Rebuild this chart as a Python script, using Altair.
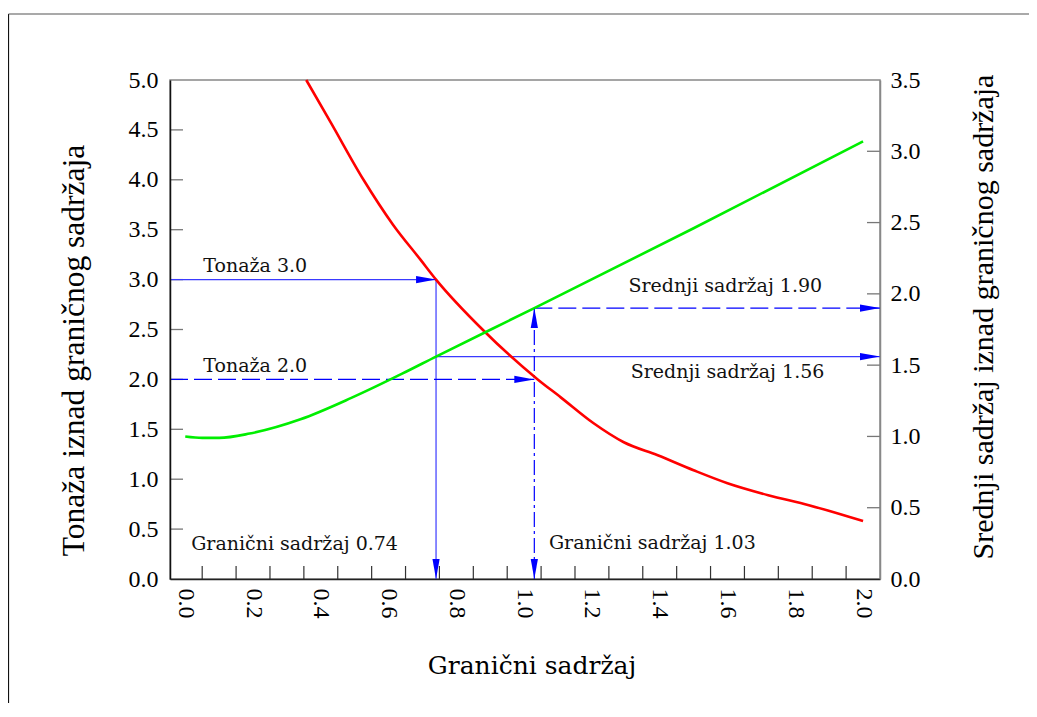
import altair as alt
import pandas as pd

# ---------------- data ----------------
red_x = [0.357, 0.43, 0.526, 0.613, 0.694, 0.74, 0.88, 1.04, 1.108, 1.205,
         1.294, 1.394, 1.50, 1.60, 1.72, 1.84, 2.0]
red_y = [5.0, 4.57, 4.0, 3.55, 3.2, 3.0, 2.49, 2.0, 1.82, 1.56,
         1.37, 1.24, 1.09, 0.96, 0.84, 0.74, 0.58]

green_x = [0.0, 0.05, 0.1, 0.19, 0.34, 0.49, 0.64, 0.74, 1.03, 1.5, 2.0]
green_y = [1.0, 0.99, 0.99, 1.02, 1.12, 1.27, 1.44, 1.56, 1.90, 2.46, 3.07]

x_labels = [0.0, 0.2, 0.4, 0.6, 0.8, 1.0, 1.2, 1.4, 1.6, 1.8, 2.0]
x_minor = [0.05, 0.15, 0.25, 0.35, 0.45, 0.55, 0.65, 0.75, 0.85, 0.95,
           1.05, 1.15, 1.25, 1.35, 1.45, 1.55, 1.65, 1.75, 1.85, 1.95]
left_vals = [0.0, 0.5, 1.0, 1.5, 2.0, 2.5, 3.0, 3.5, 4.0, 4.5, 5.0]
right_vals = [0.0, 0.5, 1.0, 1.5, 2.0, 2.5, 3.0, 3.5]
left_inner_ticks = [0.5, 1.0, 1.5, 2.0, 2.5, 3.0, 3.5, 4.0, 4.5]
right_inner_ticks = [0.5, 1.0, 1.5, 2.0, 2.5, 3.0]

cutoffs = [0.74, 1.03]        # granični sadržaj
tonnages = [3.0, 2.0]         # tonaža
mean_grades = [1.56, 1.90]    # srednji sadržaj

XDOM = [-0.045, 2.05]
YLDOM = [0.0, 5.0]
YRDOM = [0.0, 3.5]

# ---------------- style ----------------
W, H = 710, 499
SERIF = "Times New Roman, Liberation Serif, serif"
ANN = "DejaVu Serif"
BLUE = "#0000ff"
SOLID_BLUE = "#3a3aff"
RIGHT = "M0,0L-2,-0.36L-2,0.36Z"
DOWN = "M0,0L-0.36,-2L0.36,-2Z"
UP = "M0,0L-0.36,2L0.36,2Z"

XS = alt.Scale(domain=XDOM, nice=False, zero=False)
YL = alt.Scale(domain=YLDOM, nice=False, zero=False)
YR = alt.Scale(domain=YRDOM, nice=False, zero=False)

x_axis = alt.Axis(values=x_labels, format=".1f", labelAngle=90, labelAlign="left",
                  labelBaseline="middle", labelPadding=9, labelFlush=False,
                  labelOverlap=False, labelFont=SERIF, labelFontSize=24,
                  labelColor="#000", ticks=False, domainColor="#222",
                  domainWidth=1.5, grid=False, title="Granični sadržaj",
                  titleFont=ANN, titleFontSize=25, titleFontWeight="normal",
                  titleColor="#000", titleX=361.5, titleY=94, titleAlign="center",
                  titleBaseline="alphabetic", titleAngle=0, zindex=1)

yl_axis = alt.Axis(orient="left", values=left_vals, format=".1f", labelPadding=12,
                   labelFont=SERIF, labelFontSize=24, labelColor="#000",
                   labelOverlap=False, ticks=False,
                   domainColor="#111", domainWidth=1.5, grid=False,
                   title="Tonaža iznad graničnog sadržaja", titleFont=SERIF,
                   titleFontSize=31.5, titleFontWeight="normal", titleColor="#000",
                   titleAngle=270, titleX=-86.5, titleY=270, titleAlign="center",
                   titleBaseline="alphabetic", zindex=1)

yr_axis = alt.Axis(orient="right", values=right_vals, format=".1f", labelPadding=10,
                   labelFont=SERIF, labelFontSize=24, labelColor="#000",
                   labelOverlap=False, ticks=False,
                   domainColor="#888", domainWidth=1.5, grid=False,
                   title="Srednji sadržaj iznad graničnog sadržaja", titleFont=SERIF,
                   titleFontSize=30, titleFontWeight="normal", titleColor="#000",
                   titleAngle=270, titleX=112, titleY=236.5, titleAlign="center",
                   titleBaseline="alphabetic", zindex=1)


def xq(f):
    # identical axis definition on every layer so the shared x axis merges cleanly
    return alt.X(f + ":Q", scale=XS, axis=x_axis)


def ylq(f, axis=None):
    return alt.Y(f + ":Q", scale=YL, axis=axis)


def yrq(f, axis=None):
    return alt.Y(f + ":Q", scale=YR, axis=axis)


layers = []

# frame around the figure
frame_df = pd.DataFrame({"k": [0]})
layers.append(alt.Chart(frame_df).mark_rule(color="#111", strokeWidth=1.2).encode(
    x=alt.value(-161.5), y=alt.value(-66), y2=alt.value(H + 124)))
layers.append(alt.Chart(frame_df).mark_rule(color="#555", strokeWidth=1.2).encode(
    x=alt.value(-161.5), x2=alt.value(W + 149), y=alt.value(-66)))

# inward ticks
layers.append(alt.Chart(pd.DataFrame({"v": x_minor})).mark_rule(
    color="#333", strokeWidth=1.2).encode(x=xq("v"), y=alt.value(H - 13), y2=alt.value(H)))
layers.append(alt.Chart(pd.DataFrame({"v": left_inner_ticks})).mark_rule(
    color="#777", strokeWidth=1.3).encode(y=ylq("v"), x=alt.value(0), x2=alt.value(13)))
layers.append(alt.Chart(pd.DataFrame({"v": right_inner_ticks})).mark_rule(
    color="#777", strokeWidth=1.3).encode(y=yrq("v"), x=alt.value(W - 13), x2=alt.value(W)))

# tonnage guide lines (left scale)
ton_df = pd.DataFrame({"x0": [XDOM[0]] * 2, "x": cutoffs, "y0": [0.0, 0.0], "y": tonnages})
layers.append(alt.Chart(ton_df.iloc[[0]]).mark_rule(color=SOLID_BLUE, strokeWidth=1.2).encode(
    x=xq("x0"), x2="x:Q", y=ylq("y")))
layers.append(alt.Chart(ton_df.iloc[[0]]).mark_rule(color=SOLID_BLUE, strokeWidth=1.2).encode(
    x=xq("x"), y=ylq("y0"), y2="y:Q"))
layers.append(alt.Chart(ton_df.iloc[[1]]).mark_rule(color=BLUE, strokeWidth=1.2,
                                                   strokeDash=[18, 6]).encode(
    x=xq("x0"), x2="x:Q", y=ylq("y")))

# grade guide lines (right scale)
gr_df = pd.DataFrame({"x": cutoffs, "x1": [XDOM[1]] * 2, "y0": [0.0, 0.0], "y": mean_grades})
layers.append(alt.Chart(gr_df.iloc[[0]]).mark_rule(color=SOLID_BLUE, strokeWidth=1.2).encode(
    x=xq("x"), x2="x1:Q", y=yrq("y")))
layers.append(alt.Chart(gr_df.iloc[[1]]).mark_rule(color=BLUE, strokeWidth=1.2,
                                                  strokeDash=[18, 6]).encode(
    x=xq("x"), x2="x1:Q", y=yrq("y")))
layers.append(alt.Chart(gr_df.iloc[[1]]).mark_rule(color=BLUE, strokeWidth=1.2,
                                                  strokeDash=[15, 4, 3, 4]).encode(
    x=xq("x"), y=yrq("y0"), y2="y:Q"))

# curves (y-axis carriers)
red = alt.Chart(pd.DataFrame({"x": red_x, "y": red_y})).mark_line(
    color="#ff0000", strokeWidth=2.6, interpolate="monotone").encode(
    x=xq("x"), y=ylq("y", yl_axis))
green = alt.Chart(pd.DataFrame({"x": green_x, "y": green_y})).mark_line(
    color="#00ee00", strokeWidth=2.6, interpolate="monotone").encode(
    x=xq("x"), y=yrq("y", yr_axis))
layers += [red, green]

# arrowheads
pt = dict(filled=True, size=400, color=BLUE, opacity=1, strokeWidth=0)
layers.append(alt.Chart(ton_df).mark_point(shape=RIGHT, **pt).encode(x=xq("x"), y=ylq("y")))
layers.append(alt.Chart(ton_df).mark_point(shape=DOWN, **pt).encode(x=xq("x"), y=ylq("y0")))
layers.append(alt.Chart(gr_df).mark_point(shape=RIGHT, **pt).encode(x=xq("x1"), y=yrq("y")))
layers.append(alt.Chart(gr_df.iloc[[1]]).mark_point(shape=UP, **pt).encode(x=xq("x"), y=yrq("y")))

# annotations: text, anchor x, anchor y, which scale, dx, dy
texts = [
    ("Tonaža 3.0", 0.0, tonnages[0], "L", 70, -8),
    ("Tonaža 2.0", 0.0, tonnages[1], "L", 70, -7),
    ("Granični sadržaj 0.74", cutoffs[0], 0.0, "L", -141.5, -29),
    ("Granični sadržaj 1.03", cutoffs[1], 0.0, "L", 118, -30),
    ("Srednji sadržaj 1.90", cutoffs[1], mean_grades[1], "R", 191, -16),
    ("Srednji sadržaj 1.56", cutoffs[0], mean_grades[0], "R", 291.5, 21),
]
for t, xv, yv, side, dx, dy in texts:
    yenc = ylq("y") if side == "L" else yrq("y")
    layers.append(alt.Chart(pd.DataFrame({"x": [xv], "y": [yv], "t": [t]})).mark_text(
        font=ANN, fontSize=19, color="#111", align="center", baseline="alphabetic",
        dx=dx, dy=dy).encode(x=xq("x"), y=yenc, text="t:N"))

chart = alt.layer(*layers).resolve_scale(y="independent").properties(
    width=W, height=H,
    autosize=alt.AutoSizeParams(type="none"),
    padding={"left": 162, "top": 72, "right": 149, "bottom": 124},
    background="white",
).configure_view(stroke="#888", strokeWidth=1.5)

chart.save("out.html", embed_options={"renderer": "svg", "actions": False})
